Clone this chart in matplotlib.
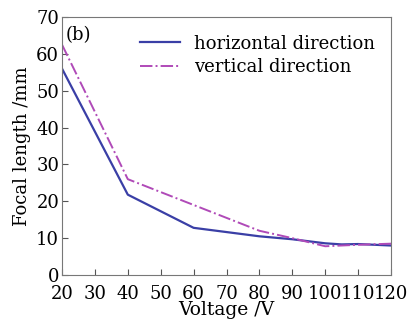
import matplotlib
matplotlib.use('Agg')
import matplotlib.pyplot as plt

# data
voltage_h = [20, 40, 60, 80, 90, 100, 105, 110, 120]
focal_h = [56, 21.8, 12.8, 10.5, 9.7, 8.6, 8.3, 8.4, 8.0]

voltage_v = [20, 40, 60, 80, 90, 100, 105, 110, 120]
focal_v = [62.5, 26, 19, 12, 10, 7.8, 8.0, 8.2, 8.5]

x_ticks = [20, 30, 40, 50, 60, 70, 80, 90, 100, 110, 120]
y_ticks = [0, 10, 20, 30, 40, 50, 60, 70]

plt.rcParams['font.family'] = ['DejaVu Serif']
plt.rcParams['mathtext.fontset'] = 'dejavuserif'

fig = plt.figure(figsize=(4.08, 3.22), dpi=100)
ax = fig.add_axes([62 / 408, 1 - 275 / 322, (391 - 62) / 408, (275 - 17) / 322])

ax.plot(voltage_h, focal_h, color='#3a3fa6', lw=1.6, label='horizontal direction')
ax.plot(voltage_v, focal_v, color='#b04ab8', lw=1.4, ls='-.', label='vertical direction')

ax.set_xlim(20, 120)
ax.set_ylim(0, 70)
ax.set_xticks(x_ticks)
ax.set_yticks(y_ticks)
ax.tick_params(direction='in', labelsize=13, length=4, color='#555555')
ax.tick_params(axis='x', pad=7)
ax.tick_params(axis='y', pad=2)
for s in ax.spines.values():
    s.set_color('#777777')

ax.set_xlabel('Voltage /V', fontsize=13.5, labelpad=-1)
ax.set_ylabel('Focal length /mm', fontsize=13, labelpad=4)

ax.text(0.012, 0.965, '(b)', transform=ax.transAxes, fontsize=13, va='top', ha='left')
ax.legend(loc='upper right', frameon=False, fontsize=13, handlelength=2.2,
          borderaxespad=0.3, labelspacing=0.3, bbox_to_anchor=(0.99, 0.98))

fig.savefig('out.png', dpi=100)
